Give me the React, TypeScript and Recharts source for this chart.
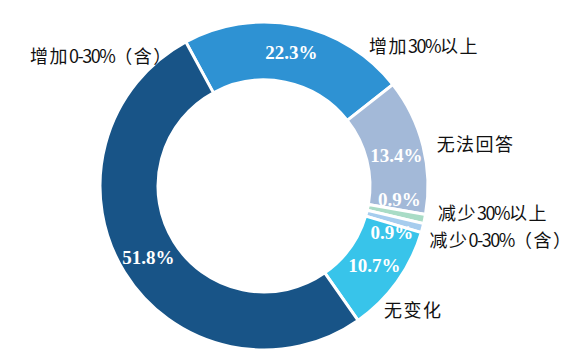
import React from "react";
import { PieChart, Pie, Cell } from "recharts";

// clockwise from the top-left split
const categories = ["增加30%以上", "无法回答", "减少30%以上", "减少0-30%（含）", "无变化", "增加0-30%（含）"];
const shares = [22.3, 13.4, 0.9, 0.9, 10.7, 51.8];

const COLORS = ["#2e92d3", "#a3b9d8", "#a9dcc6", "#a6cdee", "#38c4ea", "#185487"];
// label angle nudges (deg) / radius pads so labels sit where the original puts them
const VALUE_NUDGE = [0, -1, 6, -5, 0, 0];
const NAME_NUDGE = [-25, 0, 3, -3, -10, 273];
const NAME_PAD = [12, 14, 12, 10, 8, -4];

const RAD = Math.PI / 180;

const chartData = categories.map((name, i) => ({ name, value: shares[i] }));

// split into CJK / latin runs so each gets its own size & spacing
function runs(s: string) {
  const out: { t: string; cjk: boolean }[] = [];
  for (const ch of s) {
    const cjk = /[\u3000-\u9fff\uff00-\uffef]/.test(ch);
    const last = out[out.length - 1];
    if (last && last.cjk === cjk) last.t += ch;
    else out.push({ t: ch, cjk });
  }
  return out;
}

function renderLabel(props: any) {
  const { cx, cy, midAngle, innerRadius, outerRadius, index, value, name } = props;
  const rMid = (innerRadius + outerRadius) / 2 + 1;
  const a1 = (midAngle + VALUE_NUDGE[index]) * RAD;
  const vx = cx + rMid * Math.cos(-a1);
  const vy = cy + rMid * Math.sin(-a1);

  const rOut = outerRadius + NAME_PAD[index];
  const a2 = (midAngle + NAME_NUDGE[index]) * RAD;
  const nx = cx + rOut * Math.cos(-a2);
  const ny = cy + rOut * Math.sin(-a2);

  return (
    <g>
      <text
        x={vx}
        y={vy}
        fill="#fff"
        textAnchor="middle"
        dominantBaseline="central"
        style={{ fontFamily: "'Liberation Serif', 'Times New Roman', serif", fontWeight: 700, fontSize: 19 }}
      >
        {`${Number(value).toFixed(1)}%`}
      </text>
      <text
        x={nx}
        y={ny}
        fill="#111"
        textAnchor={nx > cx ? "start" : "end"}
        dominantBaseline="central"
        style={{ fontFamily: "'Noto Sans CJK SC', 'Noto Sans', sans-serif" }}
      >
        {runs(name).map((r, k) => (
          <tspan key={k} fontSize={18} letterSpacing={r.cjk ? 1.5 : -1.5}>
            {r.t}
          </tspan>
        ))}
      </text>
    </g>
  );
}

export default function App() {
  return (
    <div style={{ position: "absolute", left: 0, top: 0, width: 577, height: 363, background: "#fff" }}>
      <PieChart width={577} height={363} margin={{ top: 0, right: 0, bottom: 0, left: 0 }}>
        <Pie
          data={chartData}
          dataKey="value"
          nameKey="name"
          cx={264}
          cy={186}
          innerRadius={106}
          outerRadius={164}
          startAngle={118.5}
          endAngle={-241.5}
          stroke="#fff"
          strokeWidth={3}
          label={renderLabel}
          labelLine={false}
          isAnimationActive={false}
        >
          {chartData.map((d, i) => (
            <Cell key={d.name} fill={COLORS[i]} />
          ))}
        </Pie>
      </PieChart>
    </div>
  );
}
